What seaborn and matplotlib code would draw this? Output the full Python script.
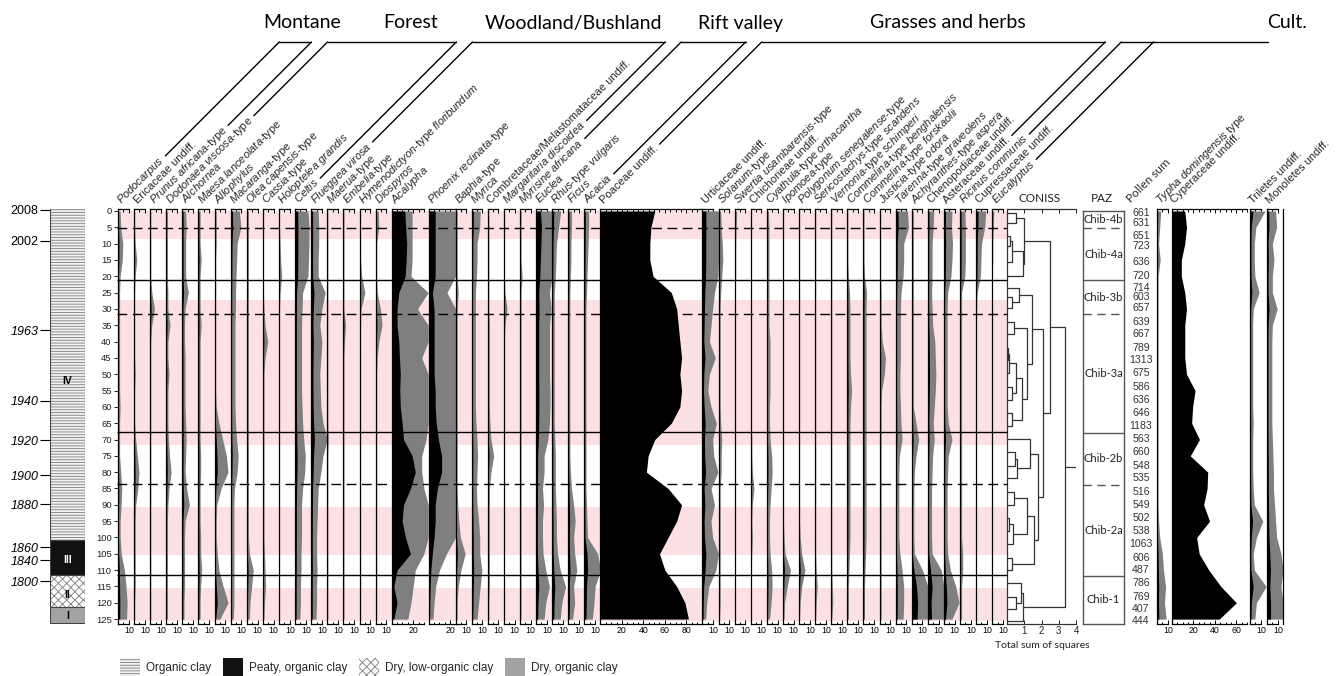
import numpy as np
import matplotlib
matplotlib.use("Agg")
import matplotlib.pyplot as plt
from matplotlib.patches import Patch
from matplotlib.lines import Line2D
import seaborn as sns

sns.set_theme(style="white")
plt.rcParams["font.family"] = ["Liberation Sans", "DejaVu Sans"]
plt.rcParams["mathtext.fontset"] = "custom"
plt.rcParams["mathtext.rm"] = "Liberation Sans"
plt.rcParams["mathtext.it"] = "Liberation Sans:italic"
plt.rcParams["hatch.linewidth"] = 0.7
plt.rcParams["axes.linewidth"] = 0.9

# ---------------- data ----------------
depths = np.arange(0, 126, 5)

podocarpus = [0.4,0.5,0.9,0.8,0.4,0.3,0.3,0.3,0.3,0.3,0.3,0.3,0.4,0.3,0.3,0.3,0.5,0.7,0.6,0.4,0.4,0.6,1.2,1.5,1.7,1.6]
ericaceae = [0.1,0.1,0.2,0.5,0.2,0.1,0.1,0.1,0.1,0.1,0.2,0.1,0.1,0.1,0.3,0.6,0.9,0.7,0.3,0.2,0.2,0.2,0.2,0.2,0.1,0.1]
prunus = [0.1,0.1,0.1,0.1,0.1,0.3,0.8,0.3,0.1,0.1,0.1,0.1,0.1,0.1,0.1,0.1,0.1,0.1,0.1,0.1,0.1,0.1,0.1,0.1,0.1,0.1]
dodonaea = [0.2,0.2,0.2,0.2,0.2,0.3,0.3,0.7,0.3,0.3,0.5,0.3,0.3,0.3,0.4,0.6,0.9,0.5,0.3,0.2,0.2,0.2,0.2,0.2,0.2,0.2]
alchornea = [0.6,0.7,0.6,0.6,0.6,1.1,0.5,0.4,0.4,0.5,0.5,0.5,0.5,0.6,0.7,0.6,0.5,0.8,1.3,0.5,0.4,0.4,0.4,0.4,0.3,0.3]
maesa = [0.3,0.3,0.3,0.5,0.3,0.3,0.3,0.5,0.3,0.3,0.3,0.3,0.3,0.3,0.3,0.4,0.4,0.3,0.3,0.3,0.4,0.4,0.6,0.4,0.3,0.3]
allophylus = [0.3,0.3,0.3,0.2,0.2,0.2,0.2,0.2,0.2,0.2,0.2,0.2,0.3,0.8,1.5,2.2,2.5,1.2,0.4,0.3,0.3,0.5,0.8,1.6,2.5,1.0]
macaranga = [1.6,1.9,1.2,1.1,1.0,0.9,0.9,0.8,0.8,0.8,0.8,0.8,0.8,0.9,1.1,1.4,1.2,0.7,0.6,0.6,0.6,0.6,0.6,0.6,0.6,0.5]
olea = [0.3,0.3,0.3,0.3,0.3,0.3,0.3,0.3,0.3,0.3,0.3,0.3,0.3,0.3,0.3,0.3,0.3,0.3,0.3,0.3,0.3,0.5,1.2,0.9,0.6,0.5]
cassia = [0.1,0.1,0.1,0.1,0.1,0.1,0.2,0.4,0.9,0.4,0.2,0.2,0.2,0.2,0.2,0.2,0.2,0.2,0.2,0.2,0.2,0.3,0.4,0.5,0.3,0.2]
holoptelea = [0.1,0.1,0.2,0.3,0.5,0.2,0.1,0.1,0.1,0.1,0.1,0.1,0.1,0.1,0.1,0.1,0.1,0.1,0.1,0.1,0.1,0.1,0.1,0.1,0.1,0.1]
celtis = [2.4,2.6,2.6,2.5,2.4,1.4,1.3,1.2,1.2,1.2,1.2,1.2,1.3,1.4,1.6,1.9,1.8,1.4,1.2,1.2,1.2,1.1,1.1,1.0,1.0,0.9]
flueggea = [1.3,1.4,1.4,1.3,1.3,2.6,2.0,1.6,2.0,1.8,1.6,1.7,1.8,2.2,3.0,2.2,1.8,1.3,1.2,1.1,1.0,1.0,1.1,1.0,1.0,0.9]
maerua = [0.1,0.1,0.1,0.1,0.1,0.1,0.1,0.1,0.1,0.1,0.1,0.1,0.1,0.1,0.2,0.1,0.1,0.1,0.1,0.1,0.1,0.1,0.1,0.1,0.1,0.1]
embelia = [0.1,0.1,0.1,0.1,0.1,0.1,0.1,0.4,0.2,0.1,0.1,0.1,0.1,0.1,0.1,0.1,0.1,0.1,0.1,0.1,0.1,0.1,0.1,0.1,0.1,0.1]
hymenodictyon = [0.2,0.2,0.2,0.2,0.4,1.0,0.3,0.2,0.2,0.2,0.2,0.2,0.2,0.2,0.2,0.2,0.2,0.2,0.2,0.2,0.2,0.2,0.2,0.2,0.2,0.2]
diospyros = [0.5,0.6,0.2,0.2,0.2,0.3,0.9,1.2,0.6,0.3,0.2,0.2,0.2,0.2,0.2,0.2,0.2,0.2,0.2,0.2,0.2,0.2,0.2,0.2,0.2,0.2]
acalypha = [12.2,13.0,14.0,13.5,12.5,6.6,5.0,5.0,6.6,7.2,8.0,7.5,8.0,9.7,11.0,19.0,22.0,17.5,11.0,9.7,12.8,17.5,5.0,2.0,5.0,2.0]
acalypha_grey = [19,19,19,19,18,34,24,34,34,28,34,34,34,34,32,28,28,30,34,34,34,30,22,20,18,15]
phoenix = [6,6,6,6,6,3.4,5,5,5,5,5,6,6,7,9,12,12,8,6,6,5,3.3,2.0,1.3,1.0,0.8]
baphia = [0.3,0.3,0.3,0.3,0.3,0.5,0.3,0.3,0.3,0.3,0.3,0.3,0.3,0.3,0.3,0.3,0.3,0.3,0.4,0.6,0.9,1.8,1.0,0.5,0.3,0.3]
myrica = [1.6,1.5,1.0,1.0,0.9,0.7,0.7,0.7,0.7,0.7,0.7,0.7,0.7,0.8,1.0,1.1,1.0,0.9,1.0,1.3,1.5,1.5,1.9,1.6,1.3,1.0]
combretaceae = [0.2,0.2,0.2,0.2,0.2,0.2,0.2,0.3,0.3,0.3,0.3,0.3,0.3,0.4,0.6,1.1,0.6,0.3,0.3,0.3,0.3,0.3,0.3,0.3,0.2,0.2]
margaritaria = [0.1,0.1,0.1,0.1,0.1,0.2,0.6,0.2,0.1,0.1,0.1,0.1,0.1,0.1,0.1,0.1,0.1,0.1,0.1,0.1,0.1,0.1,0.1,0.1,0.1,0.1]
myrsine = [0.2,0.2,0.2,0.2,0.4,0.2,0.2,0.2,0.2,0.2,0.2,0.2,0.2,0.2,0.2,0.2,0.2,0.2,0.2,0.2,0.2,0.2,0.2,0.2,0.2,0.2]
euclea = [4.0,5.0,4.5,4.0,3.5,2.5,2.8,2.5,2.5,2.5,2.5,2.6,2.6,2.5,2.2,1.5,1.5,1.2,1.4,1.2,1.2,1.3,1.8,2.5,1.8,1.5]
rhus = [1.6,1.2,0.8,0.7,0.6,0.4,0.4,0.4,0.4,0.4,0.4,0.4,0.4,0.4,0.5,0.6,0.6,0.6,0.7,0.8,0.8,1.0,1.5,2.5,1.8,1.5]
ficus = [0.6,0.6,0.5,0.5,0.4,0.3,0.3,0.3,0.3,0.3,0.3,0.3,0.3,0.3,0.3,0.3,0.4,0.6,1.0,1.3,1.0,1.2,1.6,1.0,1.2,0.8]
acacia = [0.8,0.8,0.7,0.6,0.5,0.4,0.3,0.3,0.3,0.3,0.3,0.3,0.3,0.3,0.3,0.3,0.3,0.3,0.4,0.5,0.6,2.5,3.0,2.0,1.8,1.5]
poaceae = [50.6,47,46,46,49,66,71,72.5,74,75.6,74,75.6,74,66,50.6,44.4,42.8,63,75.6,71,63,55,60,71,78.7,82]
urticaceae = [3.2,3.2,3.1,3.1,2.9,2.25,1.9,1.6,1.3,2.4,1.3,1.0,1.6,2.6,1.9,2.1,2.9,1.6,2.25,1.6,1.9,3.2,2.5,1.2,0.8,0.6]
solanum = [0.4,0.5,0.7,0.8,0.6,0.4,0.3,0.3,0.3,0.3,0.3,0.3,0.3,0.4,0.6,0.5,0.5,0.3,0.3,0.3,0.3,0.3,0.3,0.3,0.3,0.2]
swertia = [0.4,0.3,0.2,0.2,0.2,0.1,0.1,0.1,0.1,0.1,0.1,0.1,0.1,0.1,0.1,0.1,0.1,0.1,0.1,0.1,0.1,0.1,0.1,0.1,0.1,0.1]
chichorieae = [0.1,0.1,0.1,0.1,0.1,0.1,0.1,0.1,0.1,0.1,0.1,0.1,0.1,0.1,0.2,0.2,0.3,0.6,0.3,0.2,0.3,0.2,0.1,0.1,0.1,0.1]
cyathula = [0.3,0.4,0.4,0.4,0.4,0.4,0.4,0.4,0.6,0.6,0.6,0.6,0.5,0.5,0.6,0.9,1.0,0.8,0.6,0.5,0.5,0.6,0.9,1.0,0.8,0.5]
ipomoea = [0.1,0.1,0.1,0.1,0.1,0.1,0.1,0.1,0.1,0.1,0.1,0.1,0.1,0.1,0.1,0.1,0.1,0.1,0.1,0.1,0.2,0.4,1.4,0.8,0.3,0.2]
polygonum = [0.1,0.1,0.1,0.1,0.1,0.1,0.1,0.1,0.1,0.1,0.1,0.1,0.1,0.1,0.1,0.1,0.1,0.1,0.1,0.1,0.2,0.5,1.1,0.5,0.2,0.1]
sericostachys = [0.1,0.1,0.1,0.1,0.1,0.1,0.1,0.1,0.1,0.1,0.1,0.1,0.1,0.1,0.1,0.1,0.1,0.1,0.1,0.1,0.1,0.1,0.2,0.4,0.2,0.1]
vernonia = [0.1,0.1,0.1,0.1,0.1,0.1,0.1,0.1,0.1,0.1,0.1,0.1,0.1,0.1,0.1,0.1,0.1,0.1,0.1,0.1,0.1,0.1,0.1,0.2,0.3,0.1]
commelina_b = [0.1,0.1,0.1,0.1,0.2,0.4,0.5,0.5,0.5,0.5,0.6,0.8,0.6,0.5,0.5,0.5,0.5,0.5,0.5,0.5,0.5,0.4,0.3,0.2,0.2,0.2]
commelina_f = [0.1,0.1,0.1,0.1,0.2,0.6,0.5,0.5,0.5,0.5,0.5,0.5,0.5,0.5,0.5,0.5,0.5,0.5,0.5,0.5,0.5,0.4,0.3,0.2,0.2,0.2]
justicia = [0.2,0.2,0.2,0.2,0.2,0.3,0.3,0.3,0.5,1.1,0.9,0.4,0.3,0.3,0.3,0.3,0.3,0.3,0.3,0.3,0.3,0.3,0.3,0.3,0.3,0.3]
tarenna = [2.2,2.4,1.5,1.5,1.4,1.0,0.9,0.9,0.9,0.9,0.8,0.8,0.9,1.0,1.2,0.7,0.6,0.6,0.6,0.6,0.6,0.8,1.2,1.5,1.5,1.4]
achyranthes = [0.3,0.3,0.3,0.3,0.3,0.3,0.3,0.3,0.3,0.3,0.3,0.3,0.3,0.8,1.3,0.8,0.5,0.4,0.4,0.4,0.4,0.5,2.0,4.5,5.5,5.0]
chenopodiaceae = [1.1,1.0,0.8,0.8,0.8,0.7,0.8,0.9,1.3,1.4,1.5,1.4,1.2,1.0,1.2,0.9,0.8,0.7,0.7,0.7,0.7,0.8,2.5,4.0,3.0,3.5]
asteraceae = [1.5,1.4,1.6,1.5,1.3,0.7,0.6,0.6,0.6,0.6,0.6,0.6,0.6,0.8,1.5,0.8,0.7,0.6,0.6,0.6,0.6,0.7,1.2,2.2,2.8,1.5]
ricinus = [0.9,1.0,1.0,1.0,0.9,0.3,0.3,0.3,0.3,0.3,0.3,0.3,0.3,0.3,0.3,0.3,0.3,0.3,0.3,0.3,0.3,0.5,0.5,0.3,0.3,0.3]
cupressaceae = [1.8,1.6,1.0,0.9,0.8,0.2,0.1,0,0,0,0,0,0,0,0,0,0,0,0,0,0,0,0,0,0,0]
eucalyptus = [0.3,0.2,0.1,0.1,0,0,0,0,0,0,0,0,0,0,0,0,0,0,0,0,0,0,0,0,0,0]
typha = [0.7,0.5,0.3,0.6,0.2,0.2,0.2,0.2,0.2,0.2,0.2,0.2,0.2,0.2,0.2,0.2,0.2,0.2,0.2,0.3,0.5,1.0,1.2,1.6,1.4,1.7]
cyperaceae = [11.9,13.5,11.9,8.7,8.7,11.9,13.5,11.9,11.9,11.9,13.5,21.5,19.2,18.3,25.6,17,33.3,32.7,29.5,35,23,25.3,34.3,45.5,60,44]
triletes = [2.8,1.1,0.8,0.8,0.9,1.7,0.6,0.5,0.5,0.5,0.5,0.5,0.5,0.6,0.5,0.5,0.5,0.6,0.8,2.4,1.2,0.6,0.8,3.0,1.2,0.9]
monoletes = [1.6,1.8,1.0,1.3,1.0,1.0,1.9,1.0,0.9,0.9,0.9,0.9,0.9,0.9,1.0,1.1,1.2,1.2,1.4,1.6,1.8,2.6,3.2,2.6,3.3,3.3]

pollen_sum = [661,631,651,723,636,720,714,603,657,639,667,789,1313,675,586,636,646,1183,
              563,660,548,535,516,549,502,538,1063,606,487,786,769,407,444]
sample_depths = [0.6,3.7,7.7,10.7,15.6,19.9,23.6,26.3,29.7,34,37.7,42,45.6,49.6,53.9,57.9,61.9,65.9,
                 69.9,73.8,78.1,81.8,86.1,90,94,98,102,106.3,110,114,118.3,122,125.7]

# CONISS merges (children are leaf indices 0..32 or earlier merge nodes 33..)
merge_a = [0, 2, 34, 35, 33, 7, 6, 9, 11, 41, 14, 42, 16, 44, 40, 39, 19, 49, 18, 22, 24, 53, 52, 27, 55, 51, 48, 37, 30, 29, 62, 60]
merge_b = [1, 3, 4, 5, 36, 8, 38, 10, 12, 13, 15, 43, 17, 45, 46, 47, 20, 21, 50, 23, 25, 26, 54, 28, 56, 57, 58, 59, 31, 61, 32, 63]
merge_h = [0.5, 0.2, 0.3, 0.95, 1.0, 0.3, 0.7, 0.4, 0.05, 0.1, 0.3, 0.5, 0.3, 0.85, 1.14, 1.43,
           0.45, 0.6, 1.33, 0.4, 0.1, 0.35, 1.14, 0.3, 1.58, 1.8, 2.1, 2.5, 0.5, 0.8, 0.9, 3.35]

zone_names = ["Chib-4b", "Chib-4a", "Chib-3b", "Chib-3a", "Chib-2b", "Chib-2a", "Chib-1"]
zone_bounds = [-0.6, 5.2, 21.1, 31.6, 67.7, 83.6, 111.5, 126.5]
solid_bounds = [21.1, 67.7, 111.5]
dashed_bounds = [5.2, 31.6, 83.6]
pink_bands = [(0, 8.6), (27.3, 71.7), (90.7, 105.4), (115.5, 125.5)]

ages = ["2008", "2002", "1963", "1940", "1920", "1900", "1880", "1860", "1840", "1800"]
age_depths = [-0.4, 9.2, 36.5, 58.2, 70.2, 80.9, 89.8, 103.0, 107.0, 113.4]
age_italic = [False, False, True, True, True, True, True, True, True, True]

lith_units = ["IV", "III", "II", "I"]
lith_top = [-0.9, 100.8, 111.5, 121.3]
lith_bottom = [100.8, 111.5, 121.3, 126.2]
lith_label_depth = [52, 107, 117.6, 124]
lith_names = ["Organic clay", "Peaty, organic clay", "Dry, low-organic clay", "Dry, organic clay"]

groups = [
    ("Montane", [("*Podocarpus*", podocarpus), ("Ericaceae undiff.", ericaceae),
                 ("*Prunus africana*-type", prunus)]),
    ("Forest", [("*Dodonaea viscosa*-type", dodonaea), ("*Alchornea*", alchornea),
                ("*Maesa lanceolata*-type", maesa), ("*Allophylus*", allophylus),
                ("*Macaranga*-type", macaranga), ("*Olea capensis*-type", olea),
                ("*Cassia*-type", cassia), ("*Holoptelea grandis*", holoptelea), ("*Celtis*", celtis)]),
    ("Woodland/Bushland", [("*Flueggea virosa*", flueggea), ("*Maerua*-type", maerua),
                           ("*Embelia*-type", embelia),
                           ("*Hymenodictyon*-type *floribundum*", hymenodictyon),
                           ("*Diospyros*", diospyros), ("*Acalypha*", acalypha),
                           ("*Phoenix reclinata*-type", phoenix), ("*Baphia*-type", baphia),
                           ("*Myrica*", myrica), ("Combretaceae/Melastomataceae undiff.", combretaceae),
                           ("*Margaritaria discoidea*", margaritaria)]),
    ("Rift valley", [("*Myrisine africana*", myrsine), ("*Euclea*", euclea),
                     ("*Rhus*-type *vulgaris*", rhus), ("*Ficus*", ficus), ("*Acacia*", acacia)]),
    ("Grasses and herbs", [("Poaceae undiff.", poaceae), ("Urticaceae undiff.", urticaceae),
                           ("*Solanum*-type", solanum), ("*Swertia usambarensis*-type", swertia),
                           ("Chichorieae undiff.", chichorieae), ("*Cyathula*-type *orthacantha*", cyathula),
                           ("*Ipomoea*-type", ipomoea), ("*Polygonum senegalense*-type", polygonum),
                           ("*Sericostachys*-type *scandens*", sericostachys),
                           ("*Vernonia*-type *schimperi*", vernonia),
                           ("*Commelina*-type *benghalensis*", commelina_b),
                           ("*Commelina*-type *forskaolii*", commelina_f),
                           ("*Justicia*-type *odora*", justicia), ("*Tarenna*-type *graveolens*", tarenna),
                           ("*Achyranthes*-type *aspera*", achyranthes),
                           ("Chenopodiaceae undiff.", chenopodiaceae), ("Asteraceae undiff.", asteraceae)]),
    ("Cult.", [("*Ricinus communis*", ricinus), ("Cupressaceae undiff.", cupressaceae),
               ("*Eucalyptus*", eucalyptus)]),
]
# title centres (px) and optional extension of a bracket's horizontal to the right (px)
title_x = [302, 411, 573, 740, 948, 1287]
bracket_right = [None, None, None, None, None, 1268]

panel_max = {"*Acalypha*": 34.5, "*Phoenix reclinata*-type": 25, "Poaceae undiff.": 95}
panel_grey = {"*Acalypha*": acalypha_grey, "Poaceae undiff.": None}

# ---------------- figure ----------------
W, H = 1340, 676
fig = plt.figure(figsize=(W / 100, H / 100), dpi=100)
YLIM = (126.5, -0.6)
GREY = "#7f7f7f"
PINK = "#fde0e4"
SCALE = 16.1 / 15.0


def fax(x0, x1, y0=209.0, y1=624.0):
    return fig.add_axes([x0 / W, 1 - y1 / H, (x1 - x0) / W, (y1 - y0) / H])


def ital(s):
    out = []
    for i, p in enumerate(s.split("*")):
        if i % 2 == 1 and p:
            out.append(r"$\mathit{" + p.replace(" ", r"\ ") + "}$")
        else:
            out.append(p)
    return "".join(out)


def draw_panel(ax, vals, xmax, grey="x5", right=False):
    v = np.asarray(vals, float)
    if isinstance(grey, str):
        g = np.minimum(v * 5, xmax)
    elif grey is None:
        g = None
    else:
        g = np.minimum(np.asarray(grey, float), xmax)
    if g is not None:
        ax.fill_betweenx(depths, 0, g, color=GREY, lw=0)
    ax.fill_betweenx(depths, 0, np.minimum(v, xmax), color="black", lw=0)
    ax.set_xlim(0, xmax)
    ax.set_ylim(*YLIM)
    ax.patch.set_alpha(0)
    ax.spines["right"].set_visible(right)
    top_end = 10 if xmax <= 17 else 5 * int(xmax // 5)
    for s in ["top", "bottom"]:
        ax.spines[s].set_bounds(0, top_end)
    for s in ax.spines.values():
        s.set_color("black")
        s.set_linewidth(0.9)
    major = [10] if xmax <= 17 else list(range(20, int(xmax) + 1, 20))
    minor = [m for m in range(5, top_end + 1, 5) if m not in major]
    ax.set_xticks(major)
    ax.set_xticks(minor, minor=True)
    ax.set_xticklabels([str(m) for m in major])
    ax.tick_params(axis="x", which="both", top=True, bottom=True, direction="in",
                   length=2.6, width=0.7, labelsize=6.3, pad=1.5, colors="black")
    ax.tick_params(axis="x", which="minor", length=1.8)
    ax.set_yticks([])
    ax.grid(False)


# background pink bands
bg = fax(118, 1008)
bg.set_xlim(0, 1)
bg.set_ylim(*YLIM)
for a, b in pink_bands:
    bg.axhspan(a, b, color=PINK, lw=0)
bg.axis("off")
bg.set_zorder(0)

labels_info = []
x = 118.0
first = True
group_members = []
for gi, (gname, members) in enumerate(groups):
    idxs = []
    for lab, vals in members:
        xmax = panel_max.get(lab, 15)
        grey = panel_grey.get(lab, "x5")
        w = xmax * SCALE
        ax = fax(x, x + w)
        ax.set_zorder(2)
        draw_panel(ax, vals, xmax, grey)
        if first:
            ax.set_yticks(np.arange(0, 126, 5))
            ax.tick_params(axis="y", left=True, direction="out", length=3, width=0.7,
                           labelsize=6.8, pad=1.5, colors="#222222")
            first = False
        t = fig.text((x + 3.5) / W, 1 - 204 / H, ital(lab), fontsize=8, rotation=0,
                     rotation_mode="anchor", ha="left", va="baseline")
        labels_info.append((t, x + 3.5, H - 204))
        idxs.append(len(labels_info) - 1)
        x += w
    group_members.append(idxs)

# zone lines overlay
ov = fax(117, x)
ov.set_xlim(0, 1)
ov.set_ylim(*YLIM)
ov.hlines(solid_bounds, 0, 1, color="black", lw=1.0)
ov.hlines(dashed_bounds, 0, 1, color="black", lw=1.0, linestyles=(0, (7, 4)))
ov.axis("off")
ov.set_zorder(5)

# lithology column
lith = fax(50, 85)
lith.set_xlim(0, 1)
lith.set_ylim(*YLIM)
lith_style = [dict(facecolor="#f4f4f4", hatch="------", edgecolor="#8a8a8a"),
              dict(facecolor="#111111", edgecolor="#111111"),
              dict(facecolor="white", hatch="xxxx", edgecolor="#8a8a8a"),
              dict(facecolor="#a3a3a3", edgecolor="#a3a3a3")]
for i, u in enumerate(lith_units):
    lith.axhspan(lith_top[i], lith_bottom[i], lw=0.6, **lith_style[i])
    lith.axhspan(lith_top[i], lith_bottom[i], facecolor="none", edgecolor="#444444", lw=0.8)
    lith.text(0.5, lith_label_depth[i], u, ha="center", va="center", fontsize=7.5,
              fontweight="bold", color="white" if u == "III" else "black")
for s in lith.spines.values():
    s.set_visible(False)
lith.set_xticks([])
lith.set_yticks(age_depths)
lith.set_yticklabels(ages)
lith.tick_params(axis="y", left=True, direction="out", length=7, width=0.8, labelsize=9,
                 pad=1.5, colors="black")
for tl, it in zip(lith.get_yticklabels(), age_italic):
    if it:
        tl.set_style("italic")
lith.grid(False)

# CONISS
con = fax(1007, 1076)
con.set_xlim(0, 4)
con.set_ylim(*YLIM)
con.patch.set_alpha(0)
DC = "#333333"
pos = {i: d for i, d in enumerate(sample_depths)}
hgt = {i: 0.0 for i in range(len(sample_depths))}
nid = len(sample_depths)
for a, b, h in zip(merge_a, merge_b, merge_h):
    for c in (a, b):
        con.plot([hgt[c], h], [pos[c], pos[c]], color=DC, lw=0.9, solid_capstyle="butt")
    con.plot([h, h], [pos[a], pos[b]], color=DC, lw=0.9)
    pos[nid] = (pos[a] + pos[b]) / 2
    hgt[nid] = h
    nid += 1
root = nid - 1
con.plot([hgt[root], 4.0], [pos[root], pos[root]], color=DC, lw=0.9)
con.spines["right"].set_visible(False)
for s in con.spines.values():
    s.set_color("#333333")
    s.set_linewidth(0.9)
con.set_xticks([1, 2, 3, 4])
con.set_xticklabels(["1", "2", "3", "4"])
con.set_yticks([])
con.tick_params(axis="x", top=True, bottom=True, direction="in", length=2.6, width=0.7,
                labelsize=7, pad=1.5, colors="#222222")
con.grid(False)
fig.text(1042 / W, 1 - 646 / H, "Total sum of squares", fontsize=7.5, ha="center", va="center",
         family=["Lato", "DejaVu Sans"], color="#222222")
fig.text(1040 / W, 1 - 198 / H, "CONISS", fontsize=8.5, ha="center", va="center",
         family=["Lato", "DejaVu Sans"], color="#222222")

# PAZ
paz = fax(1083, 1124, 211, 624)
paz.set_xlim(0, 1)
paz.set_ylim(126.2, 0)
paz.hlines(solid_bounds, 0, 1, color="#555555", lw=1.0)
paz.hlines(dashed_bounds, 0, 1, color="#555555", lw=1.0, linestyles=(0, (6, 4)))
for i, zn in enumerate(zone_names):
    mid = (max(zone_bounds[i], 0) + min(zone_bounds[i + 1], 126.2)) / 2
    paz.text(0.5, mid, zn, ha="center", va="center", fontsize=8,
             family=["Lato", "DejaVu Sans"], color="#222222")
for s in paz.spines.values():
    s.set_color("#555555")
    s.set_linewidth(1.0)
paz.set_xticks([])
paz.set_yticks([])
paz.grid(False)
fig.text(1102 / W, 1 - 198 / H, "PAZ", fontsize=8.5, ha="center", va="center",
         family=["Lato", "DejaVu Sans"], color="#222222")

# pollen sum
ps = fax(1126, 1156)
ps.set_xlim(0, 1)
ps.set_ylim(*YLIM)
for d, n in zip(sample_depths, pollen_sum):
    ps.text(0.5, d, str(n), ha="center", va="center", fontsize=7.6,
            family=["Liberation Sans Narrow", "Liberation Sans"], color="#333333")
ps.axis("off")
fig.text(1131 / W, 1 - 203 / H, "Pollen sum", fontsize=8.5, rotation=45,
         rotation_mode="anchor", ha="left", va="baseline", family=["Lato", "DejaVu Sans"])

# right panels
right_panels = [("*Typha domingensis* type", typha, 14, 1157),
                ("Cyperaceae undiff.", cyperaceae, 72, 1172),
                ("Triletes undiff.", triletes, 16, 1250),
                ("Monoletes undiff.", monoletes, 15, 1267)]
for lab, vals, xmax, x0 in right_panels:
    ax = fax(x0, x0 + xmax * SCALE)
    draw_panel(ax, vals, xmax, None if lab.startswith("Cyper") else "x5",
               right=lab.startswith("Monol"))
    if lab.startswith("Monol"):
        ax.spines["right"].set_bounds(-0.6, 126.5)
    fig.text((x0 + 3) / W, 1 - 204 / H, ital(lab), fontsize=8, rotation=45,
             rotation_mode="anchor", ha="left", va="baseline")

# legend
handles = [Patch(facecolor="#f4f4f4", edgecolor="#8a8a8a", hatch="------", lw=0),
           Patch(facecolor="#111111", edgecolor="#111111", lw=0),
           Patch(facecolor="white", edgecolor="#8a8a8a", hatch="xxxx", lw=0),
           Patch(facecolor="#a3a3a3", edgecolor="#a3a3a3", lw=0)]
fig.legend(handles, lith_names, loc="center left", bbox_to_anchor=(120 / W, 1 - 667 / H),
           ncol=4, frameon=False, fontsize=8.5, handlelength=1.7, handleheight=1.9,
           columnspacing=1.0, handletextpad=0.5, borderaxespad=0, borderpad=0)

# ---------------- group brackets ----------------
fig.canvas.draw()
renderer = fig.canvas.get_renderer()
c45 = np.cos(np.pi / 4)
ends = []
for t, ax0, ay0 in labels_info:
    L = t.get_window_extent(renderer).width
    t.set_rotation(45)
    sx = ax0 + (L + 4) * c45 - 3.0 * c45
    sy = ay0 + (L + 4) * c45 + 3.0 * c45
    ends.append((sx, sy))

Y_BR = H - 42
for gi, (gname, members) in enumerate(groups):
    idxs = group_members[gi]
    corners = []
    for k in (idxs[0], idxs[-1]):
        sx, sy = ends[k]
        ex = sx + (Y_BR - sy)
        fig.add_artist(Line2D([sx / W, ex / W], [sy / H, Y_BR / H], transform=fig.transFigure,
                              color="black", lw=1.0))
        corners.append(ex)
    right_end = corners[1] if bracket_right[gi] is None else bracket_right[gi]
    fig.add_artist(Line2D([corners[0] / W, right_end / W], [Y_BR / H, Y_BR / H],
                          transform=fig.transFigure, color="black", lw=1.0))
    fig.text(title_x[gi] / W, 1 - 23 / H, gname, ha="center", va="center", fontsize=14,
             family=["Lato", "DejaVu Sans"], color="black")

fig.savefig("out.png", dpi=100)
